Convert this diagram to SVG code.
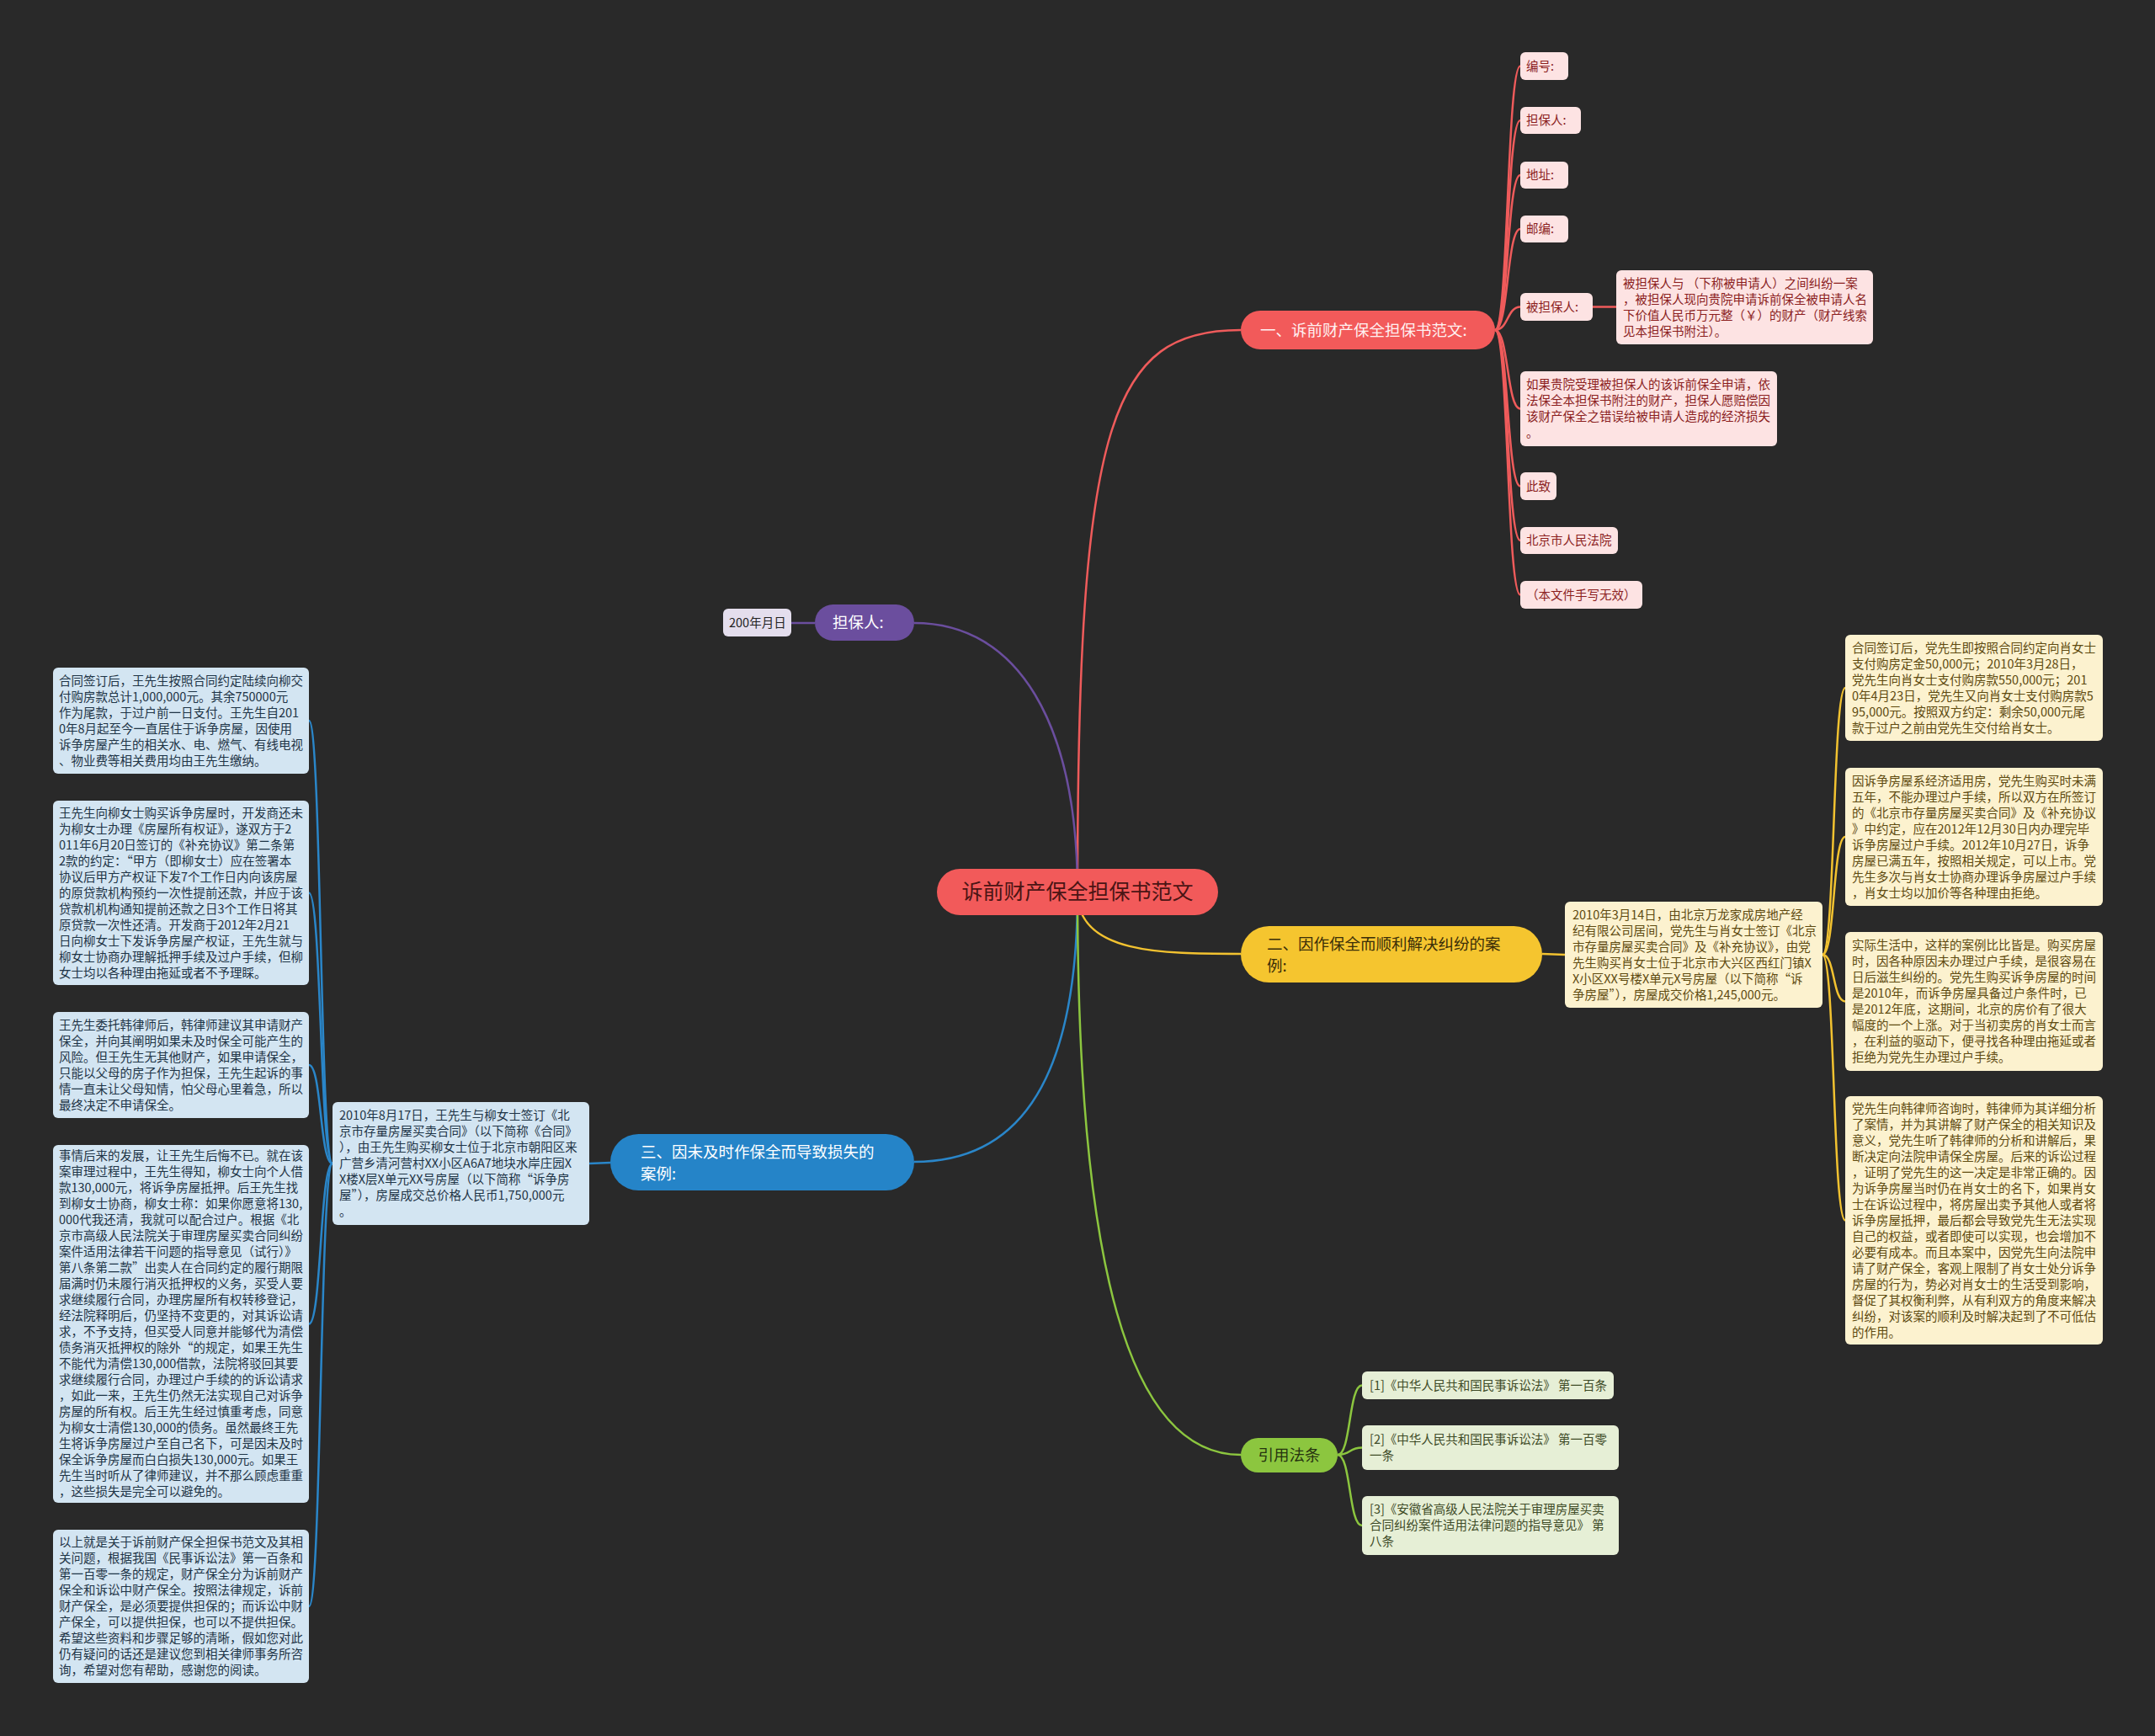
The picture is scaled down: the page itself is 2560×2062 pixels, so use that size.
<svg xmlns="http://www.w3.org/2000/svg" width="2560" height="2062" viewBox="0 0 2560 2062">
<style>
text{font-family:"Noto Sans CJK SC","Noto Sans",sans-serif;}
.t{font-size:14.5px;}
.bt{font-size:18.5px;}
.c{fill:none;stroke-width:2.5;}
.cr{stroke:#ef5b5b;}.cp{stroke:#6b4e9e;}.cy{stroke:#f2c230;}.cb{stroke:#2a86c9;}.cg{stroke:#8cc63f;}
.lr{fill:#fde3e3;}.lrt{fill:#8b1e1e;}
.lb{fill:#d3e5f2;}.lbt{fill:#1e3446;}
.ly{fill:#fcf2cf;}.lyt{fill:#5e4a10;}
.lg{fill:#e6efd6;}.lgt{fill:#3e4b27;}
</style>
<rect width="2560" height="2062" fill="#292929"/>
<g id="connectors">
<path class="c cr" d="M1280,1060 C1280,500 1320,392 1474,392"/>
<path class="c cp" d="M1280,1060 C1280,860 1210,740 1086,740"/>
<path class="c cy" d="M1280,1060 C1280,1133 1380,1133 1474,1133"/>
<path class="c cb" d="M1280,1060 C1280,1300 1200,1380 1086,1380"/>
<path class="c cg" d="M1280,1060 C1280,1500 1340,1728 1474,1728"/>
<g class="c cr" stroke-width="2">
<path d="M1776,392 C1792,392 1790,78.5 1806,78.5"/>
<path d="M1776,392 C1792,392 1790,143 1806,143"/>
<path d="M1776,392 C1792,392 1790,208 1806,208"/>
<path d="M1776,392 C1792,392 1790,272 1806,272"/>
<path d="M1776,392 C1792,392 1790,364.5 1806,364.5"/>
<path d="M1776,392 C1792,392 1790,485.5 1806,485.5"/>
<path d="M1776,392 C1792,392 1790,577.5 1806,577.5"/>
<path d="M1776,392 C1792,392 1790,642 1806,642"/>
<path d="M1776,392 C1792,392 1790,706.5 1806,706.5"/>
<path d="M1892,364.5 L1920,364.5"/>
</g>
<path class="c cp" d="M968,740 L940,740"/>
<g class="c cy" stroke-width="2">
<path d="M1832,1133 L1859,1134"/>
<path d="M2165,1134 C2180,1134 2177,817 2192,817"/>
<path d="M2165,1134 C2180,1134 2177,994 2192,994"/>
<path d="M2165,1134 C2180,1134 2177,1189.5 2192,1189.5"/>
<path d="M2165,1134 C2180,1134 2177,1449.5 2192,1449.5"/>
</g>
<g class="c cb" stroke-width="2">
<path d="M725,1381 L700,1382"/>
<path d="M395,1382 C380,1382 382,856 367,856"/>
<path d="M395,1382 C380,1382 382,1060.5 367,1060.5"/>
<path d="M395,1382 C380,1382 382,1265 367,1265"/>
<path d="M395,1382 C380,1382 382,1572.5 367,1572.5"/>
<path d="M395,1382 C380,1382 382,1908 367,1908"/>
</g>
<g class="c cg" stroke-width="2">
<path d="M1589,1728 C1605,1728 1602,1645.5 1618,1645.5"/>
<path d="M1589,1728 C1605,1728 1602,1719.5 1618,1719.5"/>
<path d="M1589,1728 C1605,1728 1602,1812 1618,1812"/>
</g>
</g>

<g id="root">
<rect x="1113" y="1032" width="334" height="55" rx="27.5" fill="#f25a5a"/>
<text x="1280" y="1068" font-size="25" text-anchor="middle" fill="#4a1414">诉前财产保全担保书范文</text>
</g>

<g id="b1">
<rect x="1474" y="369" width="302" height="46" rx="23" fill="#f25a5a"/>
<text class="bt" x="1497" y="398.5" fill="#fff2f2">一、诉前财产保全担保书范文:</text>
</g>
<g id="b1-1"><rect class="lr" x="1806" y="62" width="57" height="33" rx="6"/><text class="t lrt" x="1813" y="83.5">编号:</text></g>
<g id="b1-2"><rect class="lr" x="1806" y="127" width="72" height="32" rx="6"/><text class="t lrt" x="1813" y="148">担保人:</text></g>
<g id="b1-3"><rect class="lr" x="1806" y="192" width="57" height="32" rx="6"/><text class="t lrt" x="1813" y="213">地址:</text></g>
<g id="b1-4"><rect class="lr" x="1806" y="256" width="57" height="32" rx="6"/><text class="t lrt" x="1813" y="277">邮编:</text></g>
<g id="b1-5"><rect class="lr" x="1806" y="348" width="86" height="33" rx="6"/><text class="t lrt" x="1813" y="369.5">被担保人:</text></g>
<g id="b1-5-1"><rect class="lr" x="1920" y="321" width="305" height="88" rx="6"/>
<text class="t lrt" x="1928" y="341.5">被担保人与 （下称被申请人）之间纠纷一案<tspan x="1928" dy="19">，被担保人现向贵院申请诉前保全被申请人名</tspan><tspan x="1928" dy="19">下价值人民币万元整（￥）的财产（财产线索</tspan><tspan x="1928" dy="19">见本担保书附注）。</tspan></text></g>
<g id="b1-6"><rect class="lr" x="1806" y="441" width="305" height="89" rx="6"/>
<text class="t lrt" x="1813" y="462">如果贵院受理被担保人的该诉前保全申请，依<tspan x="1813" dy="19">法保全本担保书附注的财产，担保人愿赔偿因</tspan><tspan x="1813" dy="19">该财产保全之错误给被申请人造成的经济损失</tspan><tspan x="1813" dy="19">。</tspan></text></g>
<g id="b1-7"><rect class="lr" x="1806" y="561" width="43" height="33" rx="6"/><text class="t lrt" x="1813" y="582.5">此致</text></g>
<g id="b1-8"><rect class="lr" x="1806" y="626" width="116" height="32" rx="6"/><text class="t lrt" x="1813" y="647">北京市人民法院</text></g>
<g id="b1-9"><rect class="lr" x="1806" y="690" width="145" height="33" rx="6"/><text class="t lrt" x="1813" y="711.5">（本文件手写无效）</text></g>

<g id="b2">
<rect x="968" y="718" width="118" height="43" rx="21.5" fill="#6b4e9e"/>
<text class="bt" x="989" y="746" fill="#ffffff">担保人:</text>
</g>
<g id="b2-1"><rect x="859" y="723" width="81" height="33" rx="6" fill="#e4deed"/><text class="t" x="866" y="745" fill="#222">200年月日</text></g>

<g id="b3">
<rect x="1474" y="1100" width="358" height="67" rx="33.5" fill="#f5c52f"/>
<text class="bt" x="1505" y="1127.5" fill="#3a2e08">二、因作保全而顺利解决纠纷的案<tspan x="1505" dy="26">例:</tspan></text>
</g>
<g id="b3-1"><rect class="ly" x="1859" y="1071" width="306" height="126" rx="6"/>
<text class="t lyt" x="1868" y="1091.5">2010年3月14日，由北京万龙家成房地产经<tspan x="1868" dy="19">纪有限公司居间，党先生与肖女士签订《北京</tspan><tspan x="1868" dy="19">市存量房屋买卖合同》及《补充协议》，由党</tspan><tspan x="1868" dy="19">先生购买肖女士位于北京市大兴区西红门镇X</tspan><tspan x="1868" dy="19">X小区XX号楼X单元X号房屋（以下简称“诉</tspan><tspan x="1868" dy="19">争房屋”），房屋成交价格1,245,000元。</tspan></text></g>
<g id="b3-1-1"><rect class="ly" x="2192" y="754" width="306" height="126" rx="6"/>
<text class="t lyt" x="2200" y="774.5">合同签订后，党先生即按照合同约定向肖女士<tspan x="2200" dy="19">支付购房定金50,000元；2010年3月28日，</tspan><tspan x="2200" dy="19">党先生向肖女士支付购房款550,000元；201</tspan><tspan x="2200" dy="19">0年4月23日，党先生又向肖女士支付购房款5</tspan><tspan x="2200" dy="19">95,000元。按照双方约定：剩余50,000元尾</tspan><tspan x="2200" dy="19">款于过户之前由党先生交付给肖女士。</tspan></text></g>
<g id="b3-1-2"><rect class="ly" x="2192" y="912" width="306" height="164" rx="6"/>
<text class="t lyt" x="2200" y="932.5">因诉争房屋系经济适用房，党先生购买时未满<tspan x="2200" dy="19">五年，不能办理过户手续，所以双方在所签订</tspan><tspan x="2200" dy="19">的《北京市存量房屋买卖合同》及《补充协议</tspan><tspan x="2200" dy="19">》中约定，应在2012年12月30日内办理完毕</tspan><tspan x="2200" dy="19">诉争房屋过户手续。2012年10月27日，诉争</tspan><tspan x="2200" dy="19">房屋已满五年，按照相关规定，可以上市。党</tspan><tspan x="2200" dy="19">先生多次与肖女士协商办理诉争房屋过户手续</tspan><tspan x="2200" dy="19">，肖女士均以加价等各种理由拒绝。</tspan></text></g>
<g id="b3-1-3"><rect class="ly" x="2192" y="1107" width="306" height="165" rx="6"/>
<text class="t lyt" x="2200" y="1128">实际生活中，这样的案例比比皆是。购买房屋<tspan x="2200" dy="19">时，因各种原因未办理过户手续，是很容易在</tspan><tspan x="2200" dy="19">日后滋生纠纷的。党先生购买诉争房屋的时间</tspan><tspan x="2200" dy="19">是2010年，而诉争房屋具备过户条件时，已</tspan><tspan x="2200" dy="19">是2012年底，这期间，北京的房价有了很大</tspan><tspan x="2200" dy="19">幅度的一个上涨。对于当初卖房的肖女士而言</tspan><tspan x="2200" dy="19">，在利益的驱动下，便寻找各种理由拖延或者</tspan><tspan x="2200" dy="19">拒绝为党先生办理过户手续。</tspan></text></g>
<g id="b3-1-4"><rect class="ly" x="2192" y="1302" width="306" height="295" rx="6"/>
<text class="t lyt" x="2200" y="1321.5">党先生向韩律师咨询时，韩律师为其详细分析<tspan x="2200" dy="19">了案情，并为其讲解了财产保全的相关知识及</tspan><tspan x="2200" dy="19">意义，党先生听了韩律师的分析和讲解后，果</tspan><tspan x="2200" dy="19">断决定向法院申请保全房屋。后来的诉讼过程</tspan><tspan x="2200" dy="19">，证明了党先生的这一决定是非常正确的。因</tspan><tspan x="2200" dy="19">为诉争房屋当时仍在肖女士的名下，如果肖女</tspan><tspan x="2200" dy="19">士在诉讼过程中，将房屋出卖予其他人或者将</tspan><tspan x="2200" dy="19">诉争房屋抵押，最后都会导致党先生无法实现</tspan><tspan x="2200" dy="19">自己的权益，或者即使可以实现，也会增加不</tspan><tspan x="2200" dy="19">必要有成本。而且本案中，因党先生向法院申</tspan><tspan x="2200" dy="19">请了财产保全，客观上限制了肖女士处分诉争</tspan><tspan x="2200" dy="19">房屋的行为，势必对肖女士的生活受到影响，</tspan><tspan x="2200" dy="19">督促了其权衡利弊，从有利双方的角度来解决</tspan><tspan x="2200" dy="19">纠纷，对该案的顺利及时解决起到了不可低估</tspan><tspan x="2200" dy="19">的作用。</tspan></text></g>

<g id="b4">
<rect x="725" y="1347" width="361" height="67" rx="33.5" fill="#2584c8"/>
<text class="bt" x="761" y="1374.5" fill="#ffffff">三、因未及时作保全而导致损失的<tspan x="761" dy="26">案例:</tspan></text>
</g>
<g id="b4-1"><rect class="lb" x="395" y="1309" width="305" height="146" rx="6"/>
<text class="t lbt" x="403" y="1330">2010年8月17日，王先生与柳女士签订《北<tspan x="403" dy="19">京市存量房屋买卖合同》（以下简称《合同》</tspan><tspan x="403" dy="19">），由王先生购买柳女士位于北京市朝阳区来</tspan><tspan x="403" dy="19">广营乡清河营村XX小区A6A7地块水岸庄园X</tspan><tspan x="403" dy="19">X楼X层X单元XX号房屋（以下简称“诉争房</tspan><tspan x="403" dy="19">屋”），房屋成交总价格人民币1,750,000元</tspan><tspan x="403" dy="19">。</tspan></text></g>
<g id="b4-1-1"><rect class="lb" x="63" y="793" width="304" height="126" rx="6"/>
<text class="t lbt" x="70" y="813.5">合同签订后，王先生按照合同约定陆续向柳交<tspan x="70" dy="19">付购房款总计1,000,000元。其余750000元</tspan><tspan x="70" dy="19">作为尾款，于过户前一日支付。王先生自201</tspan><tspan x="70" dy="19">0年8月起至今一直居住于诉争房屋，因使用</tspan><tspan x="70" dy="19">诉争房屋产生的相关水、电、燃气、有线电视</tspan><tspan x="70" dy="19">、物业费等相关费用均由王先生缴纳。</tspan></text></g>
<g id="b4-1-2"><rect class="lb" x="63" y="951" width="304" height="219" rx="6"/>
<text class="t lbt" x="70" y="970.5">王先生向柳女士购买诉争房屋时，开发商还未<tspan x="70" dy="19">为柳女士办理《房屋所有权证》，遂双方于2</tspan><tspan x="70" dy="19">011年6月20日签订的《补充协议》第二条第</tspan><tspan x="70" dy="19">2款的约定：“甲方（即柳女士）应在签署本</tspan><tspan x="70" dy="19">协议后甲方产权证下发7个工作日内向该房屋</tspan><tspan x="70" dy="19">的原贷款机构预约一次性提前还款，并应于该</tspan><tspan x="70" dy="19">贷款机机构通知提前还款之日3个工作日将其</tspan><tspan x="70" dy="19">原贷款一次性还清。开发商于2012年2月21</tspan><tspan x="70" dy="19">日向柳女士下发诉争房屋产权证，王先生就与</tspan><tspan x="70" dy="19">柳女士协商办理解抵押手续及过户手续，但柳</tspan><tspan x="70" dy="19">女士均以各种理由拖延或者不予理睬。</tspan></text></g>
<g id="b4-1-3"><rect class="lb" x="63" y="1202" width="304" height="126" rx="6"/>
<text class="t lbt" x="70" y="1222.5">王先生委托韩律师后，韩律师建议其申请财产<tspan x="70" dy="19">保全，并向其阐明如果未及时保全可能产生的</tspan><tspan x="70" dy="19">风险。但王先生无其他财产，如果申请保全，</tspan><tspan x="70" dy="19">只能以父母的房子作为担保，王先生起诉的事</tspan><tspan x="70" dy="19">情一直未让父母知情，怕父母心里着急，所以</tspan><tspan x="70" dy="19">最终决定不申请保全。</tspan></text></g>
<g id="b4-1-4"><rect class="lb" x="63" y="1360" width="304" height="425" rx="6"/>
<text class="t lbt" x="70" y="1378">事情后来的发展，让王先生后悔不已。就在该<tspan x="70" dy="19">案审理过程中，王先生得知，柳女士向个人借</tspan><tspan x="70" dy="19">款130,000元，将诉争房屋抵押。后王先生找</tspan><tspan x="70" dy="19">到柳女士协商，柳女士称：如果你愿意将130,</tspan><tspan x="70" dy="19">000代我还清，我就可以配合过户。根据《北</tspan><tspan x="70" dy="19">京市高级人民法院关于审理房屋买卖合同纠纷</tspan><tspan x="70" dy="19">案件适用法律若干问题的指导意见（试行）》</tspan><tspan x="70" dy="19">第八条第二款”出卖人在合同约定的履行期限</tspan><tspan x="70" dy="19">届满时仍未履行消灭抵押权的义务，买受人要</tspan><tspan x="70" dy="19">求继续履行合同，办理房屋所有权转移登记，</tspan><tspan x="70" dy="19">经法院释明后，仍坚持不变更的，对其诉讼请</tspan><tspan x="70" dy="19">求，不予支持，但买受人同意并能够代为清偿</tspan><tspan x="70" dy="19">债务消灭抵押权的除外“的规定，如果王先生</tspan><tspan x="70" dy="19">不能代为清偿130,000借款，法院将驳回其要</tspan><tspan x="70" dy="19">求继续履行合同，办理过户手续的的诉讼请求</tspan><tspan x="70" dy="19">，如此一来，王先生仍然无法实现自己对诉争</tspan><tspan x="70" dy="19">房屋的所有权。后王先生经过慎重考虑，同意</tspan><tspan x="70" dy="19">为柳女士清偿130,000的债务。虽然最终王先</tspan><tspan x="70" dy="19">生将诉争房屋过户至自己名下，可是因未及时</tspan><tspan x="70" dy="19">保全诉争房屋而白白损失130,000元。如果王</tspan><tspan x="70" dy="19">先生当时听从了律师建议，并不那么顾虑重重</tspan><tspan x="70" dy="19">，这些损失是完全可以避免的。</tspan></text></g>
<g id="b4-1-5"><rect class="lb" x="63" y="1817" width="304" height="182" rx="6"/>
<text class="t lbt" x="70" y="1837">以上就是关于诉前财产保全担保书范文及其相<tspan x="70" dy="19">关问题，根据我国《民事诉讼法》第一百条和</tspan><tspan x="70" dy="19">第一百零一条的规定，财产保全分为诉前财产</tspan><tspan x="70" dy="19">保全和诉讼中财产保全。按照法律规定，诉前</tspan><tspan x="70" dy="19">财产保全，是必须要提供担保的；而诉讼中财</tspan><tspan x="70" dy="19">产保全，可以提供担保，也可以不提供担保。</tspan><tspan x="70" dy="19">希望这些资料和步骤足够的清晰，假如您对此</tspan><tspan x="70" dy="19">仍有疑问的话还是建议您到相关律师事务所咨</tspan><tspan x="70" dy="19">询，希望对您有帮助，感谢您的阅读。</tspan></text></g>

<g id="b5">
<rect x="1474" y="1708" width="115" height="41" rx="20.5" fill="#8cc63f"/>
<text class="bt" x="1531.5" y="1735" text-anchor="middle" fill="#26330f">引用法条</text>
</g>
<g id="b5-1"><rect class="lg" x="1618" y="1629" width="299" height="33" rx="6"/><text class="t lgt" x="1627" y="1650.5">[1]《中华人民共和国民事诉讼法》 第一百条</text></g>
<g id="b5-2"><rect class="lg" x="1618" y="1693" width="305" height="53" rx="6"/><text class="t lgt" x="1627" y="1715">[2]《中华人民共和国民事诉讼法》 第一百零<tspan x="1627" dy="19">一条</tspan></text></g>
<g id="b5-3"><rect class="lg" x="1618" y="1777" width="305" height="70" rx="6"/><text class="t lgt" x="1627" y="1798">[3]《安徽省高级人民法院关于审理房屋买卖<tspan x="1627" dy="19">合同纠纷案件适用法律问题的指导意见》 第</tspan><tspan x="1627" dy="19">八条</tspan></text></g>
</svg>
